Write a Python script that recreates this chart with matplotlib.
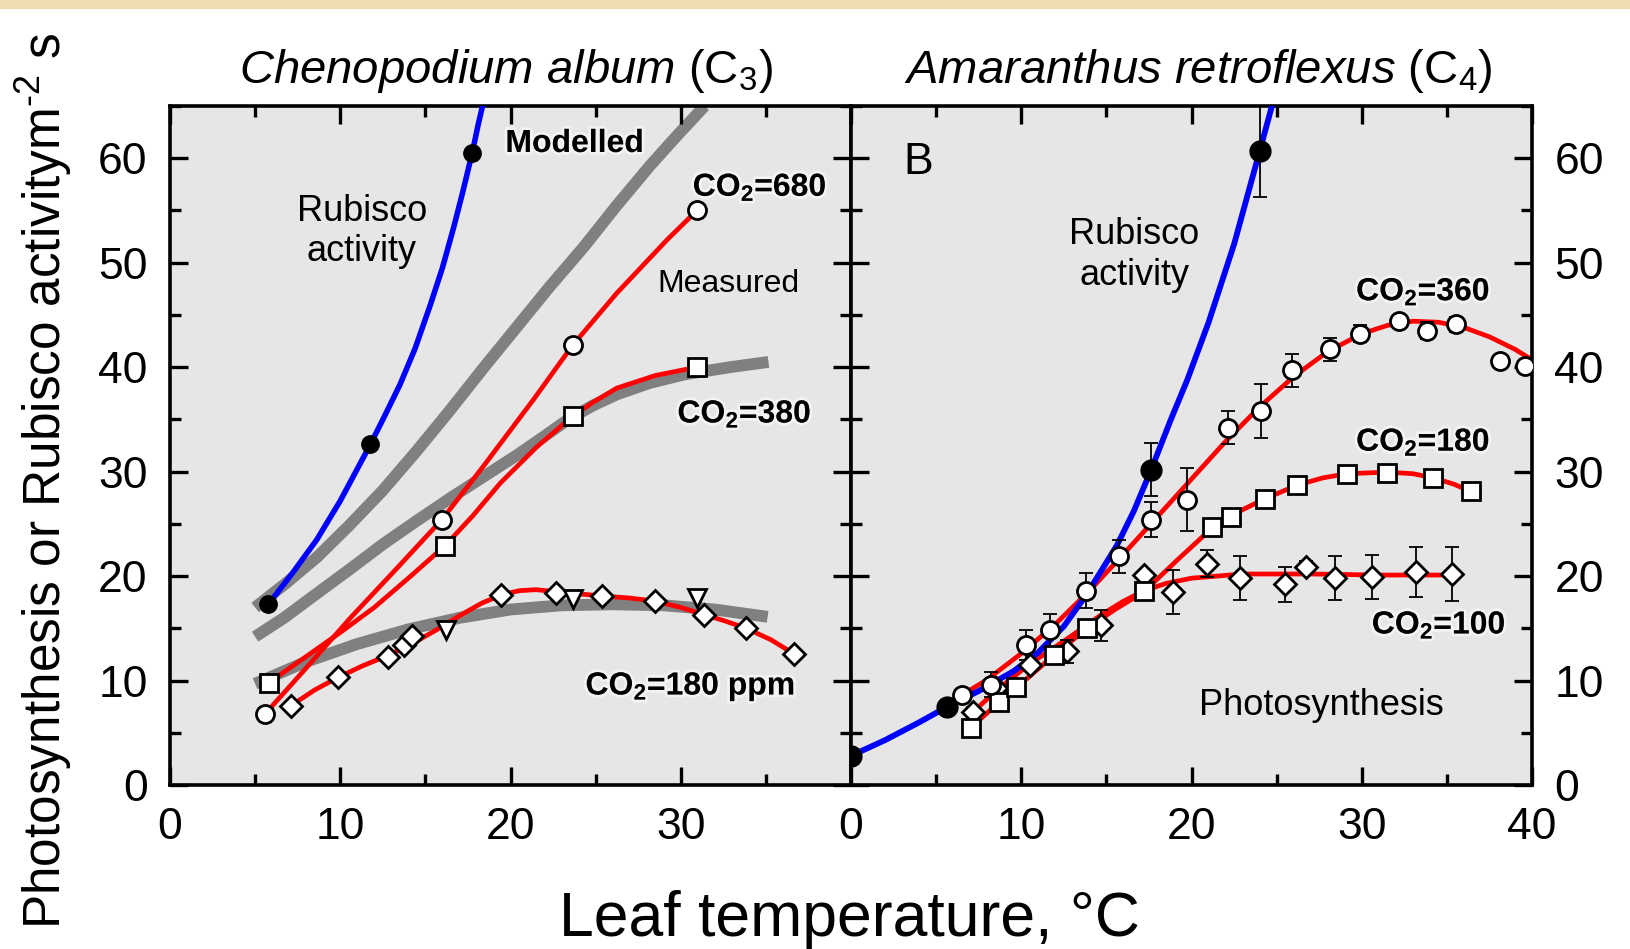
import matplotlib
matplotlib.use("Agg")
import matplotlib.pyplot as plt
import matplotlib.patheffects as pe
from matplotlib.ticker import MultipleLocator
from matplotlib.patches import Rectangle
import numpy as np

plt.rcParams['font.family'] = ['Liberation Sans', 'DejaVu Sans']
plt.rcParams['mathtext.fontset'] = 'custom'
plt.rcParams['mathtext.rm'] = 'Liberation Sans'
plt.rcParams['mathtext.it'] = 'Liberation Sans:italic'
plt.rcParams['mathtext.bf'] = 'Liberation Sans:bold'

# ---------------- C3: Chenopodium album ----------------
# modelled Rubisco activity (blue) - dots and curve
rub3_x = [5.78, 11.77, 17.75]
rub3_y = [17.3, 32.6, 60.5]
rub3_cx = [5.78, 7.2, 8.63, 10.0, 11.77, 12.6, 13.5, 14.4, 15.3, 16.0, 16.65, 17.2, 17.75, 18.1, 18.5]
rub3_cy = [17.3, 20.3, 23.5, 27.2, 32.6, 35.3, 38.3, 41.8, 46.0, 49.5, 53.3, 56.8, 60.5, 63.2, 66.0]

# modelled photosynthesis (grey)
mod680_x = [5.0, 6.8, 8.63, 10.5, 12.5, 14.5, 16.46, 18.4, 20.4, 22.3, 24.3, 26.2, 28.2, 29.8, 31.4]
mod680_y = [17.0, 19.3, 21.8, 24.8, 28.2, 32.0, 35.9, 39.9, 43.9, 47.7, 51.5, 55.4, 59.3, 62.2, 65.0]
mod380_x = [5.0, 6.7, 8.6, 10.6, 12.55, 14.5, 16.5, 18.4, 20.4, 22.0, 23.3, 24.8, 26.25, 28.2, 30.2, 32.9, 35.15]
mod380_y = [14.2, 16.0, 18.3, 20.7, 23.1, 25.3, 27.5, 29.5, 31.6, 33.4, 34.9, 36.3, 37.4, 38.5, 39.3, 40.0, 40.5]
mod180_x = [5.0, 8.0, 11.0, 14.0, 17.0, 20.0, 23.0, 26.0, 29.0, 32.0, 35.1]
mod180_y = [9.7, 11.8, 13.5, 14.9, 16.0, 16.8, 17.2, 17.3, 17.2, 16.8, 16.1]

# measured photosynthesis (red curves + symbols)
m680_x = [5.58, 15.97, 23.65, 30.95]
m680_y = [6.8, 25.4, 42.1, 55.0]
m680_cx = [5.58, 8.0, 10.6, 13.3, 15.97, 18.4, 21.35, 23.65, 25.0, 26.25, 29.2, 30.95]
m680_cy = [6.8, 11.2, 16.0, 20.7, 25.4, 30.5, 36.9, 42.1, 44.7, 47.1, 52.2, 55.0]

m380_x = [5.8, 16.15, 23.65, 30.95]
m380_y = [9.8, 22.9, 35.3, 40.0]
m380_cx = [5.8, 8.0, 10.0, 12.0, 14.0, 16.15, 17.8, 19.4, 21.5, 23.65, 24.8, 26.25, 28.5, 30.95]
m380_cy = [9.8, 12.3, 14.6, 17.0, 19.8, 22.9, 25.8, 28.9, 32.3, 35.3, 36.6, 38.0, 39.2, 40.0]

m180d_x = [7.11, 9.87, 12.81, 13.76, 14.22, 19.46, 22.66, 25.4, 28.5, 31.35, 33.84, 36.65]
m180d_y = [7.57, 10.3, 12.26, 13.4, 14.26, 18.17, 18.4, 18.1, 17.6, 16.25, 15.0, 12.55]
m180t_x = [16.19, 23.65, 30.95]
m180t_y = [14.8, 17.8, 17.9]
m180_cx = [7.11, 8.5, 9.87, 11.3, 12.8, 14.2, 15.6, 17.0, 18.3, 19.46, 20.5, 21.5, 22.7, 24.0,
           25.4, 27.0, 28.5, 30.0, 31.4, 32.6, 33.84, 35.3, 36.65]
m180_cy = [7.6, 9.1, 10.3, 11.4, 12.4, 13.5, 14.8, 16.2, 17.4, 18.2, 18.6, 18.7, 18.5, 18.3,
           18.1, 17.9, 17.6, 17.0, 16.3, 15.7, 15.0, 13.9, 12.55]

# ---------------- C4: Amaranthus retroflexus ----------------
rub4_x = [0.0, 5.66, 17.63, 24.0]
rub4_y = [2.8, 7.5, 30.2, 60.7]
rub4_err = [0, 0, 2.5, 4.4]
rub4_cx = [0.0, 2.0, 4.0, 5.66, 7.5, 9.55, 11.0, 12.5, 13.86, 15.6, 16.6, 17.63, 18.76, 19.75, 21.0, 22.5, 24.0, 24.8]
rub4_cy = [2.8, 4.3, 6.0, 7.5, 9.0, 10.9, 12.7, 15.2, 18.3, 22.9, 26.2, 30.2, 34.9, 38.8, 44.3, 51.8, 60.7, 65.5]

p360_x = [6.5, 8.2, 10.25, 11.7, 13.82, 15.73, 17.63, 19.75, 22.15, 24.08, 25.9, 28.1, 29.87, 32.2, 33.8, 35.5, 38.1, 39.6]
p360_y = [8.6, 9.6, 13.4, 14.8, 18.6, 21.9, 25.4, 27.3, 34.2, 35.8, 39.7, 41.7, 43.2, 44.4, 43.5, 44.1, 40.6, 40.1]
p360_err = [0, 1.2, 1.4, 1.6, 1.7, 1.6, 1.7, 3.0, 1.6, 2.6, 1.6, 1.1, 0.8, 0.5, 0.8, 0.7, 0, 0]
p360_cx = [6.5, 8.0, 10.0, 12.0, 14.0, 16.0, 18.0, 20.0, 22.0, 24.0, 26.0, 28.0, 30.0, 31.5, 33.0,
           34.5, 36.0, 37.5, 39.0, 40.0]
p360_cy = [8.6, 10.1, 12.6, 15.4, 18.6, 22.1, 25.7, 29.3, 32.9, 36.2, 39.1, 41.5, 43.2, 44.0, 44.4,
           44.3, 43.8, 42.9, 41.7, 40.7]

p180_x = [7.03, 8.68, 9.7, 11.9, 13.86, 17.2, 21.2, 22.3, 24.3, 26.2, 29.1, 31.5, 34.2, 36.4]
p180_y = [5.5, 7.9, 9.35, 12.4, 15.0, 18.6, 24.7, 25.7, 27.35, 28.76, 29.8, 29.9, 29.4, 28.1]
p180_cx = [7.03, 8.68, 9.7, 11.9, 13.86, 15.5, 17.2, 19.2, 21.2, 22.3, 24.3, 26.2, 27.7, 29.1,
           31.5, 33.0, 34.2, 35.4, 36.4]
p180_cy = [5.5, 7.9, 9.3, 12.4, 15.0, 16.8, 18.5, 21.6, 24.6, 25.8, 27.4, 28.7, 29.4, 29.8,
           29.95, 29.8, 29.4, 28.8, 28.1]

p100_x = [7.18, 8.5, 10.5, 12.7, 14.7, 17.2, 18.9, 20.9, 22.84, 25.5, 26.7, 28.4, 30.6, 33.2, 35.3]
p100_y = [7.0, 9.3, 11.5, 12.8, 15.3, 20.1, 18.5, 21.2, 19.8, 19.2, 20.9, 19.8, 19.9, 20.4, 20.2]
p100_err = [0.5, 0, 0, 1.1, 1.5, 0, 2.1, 1.3, 2.1, 1.7, 0.5, 2.1, 2.1, 2.4, 2.6]
p100_cx = [7.18, 8.5, 10.5, 12.7, 14.7, 16.0, 17.2, 18.5, 20.0, 21.5, 23.0, 25.0, 27.0, 29.0, 31.0, 33.0, 35.3]
p100_cy = [7.0, 9.0, 11.6, 14.0, 16.3, 17.6, 18.6, 19.3, 19.8, 20.0, 20.2, 20.2, 20.2, 20.15, 20.1, 20.1, 20.1]

RED = '#ff0000'
BLUE = '#0000ff'
GREY = '#808080'
BG = '#e6e6e6'

fig = plt.figure(figsize=(16.31, 9.49), dpi=100)
fig.patches.append(Rectangle((0, 0.992), 1, 0.008, transform=fig.transFigure,
                             color='#efdcb0', zorder=0))

ax1 = fig.add_axes([0.1042, 0.1728, 0.4176, 0.7155])
ax2 = fig.add_axes([0.5218, 0.1728, 0.4176, 0.7155])

for ax in (ax1, ax2):
    ax.set_facecolor(BG)
    ax.set_xlim(0, 40)
    ax.set_ylim(0, 65)
    ax.xaxis.set_major_locator(MultipleLocator(10))
    ax.xaxis.set_minor_locator(MultipleLocator(5))
    ax.yaxis.set_major_locator(MultipleLocator(10))
    ax.yaxis.set_minor_locator(MultipleLocator(5))
    ax.tick_params(which='both', direction='in', top=True, right=True,
                   bottom=True, left=True, width=2.4, labelsize=32)
    ax.tick_params(which='major', length=13, pad=16)
    ax.tick_params(which='minor', length=8)
    for s in ax.spines.values():
        s.set_linewidth(2.6)

ax1.set_xticks([0, 10, 20, 30, 40])
ax1.set_xticklabels(['0', '10', '20', '30', ''])
ax2.tick_params(labelleft=False, labelright=True)

mk = dict(mfc='white', mec='black', mew=2.0, ls='none', zorder=5)
eb = dict(fmt='none', ecolor='black', elinewidth=1.3, capsize=5, capthick=1.3, zorder=4)
halo = [pe.withStroke(linewidth=4, foreground=(1, 1, 1, 0.55))]

# ---- left panel
ax1.plot(mod680_x, mod680_y, color=GREY, lw=8.5, solid_capstyle='butt', zorder=1)
ax1.plot(mod380_x, mod380_y, color=GREY, lw=8.5, solid_capstyle='butt', zorder=1)
ax1.plot(mod180_x, mod180_y, color=GREY, lw=8.5, solid_capstyle='butt', zorder=1)
ax1.plot(rub3_cx, rub3_cy, color=BLUE, lw=4, zorder=3)
ax1.plot(m680_cx, m680_cy, color=RED, lw=3.4, zorder=2)
ax1.plot(m380_cx, m380_cy, color=RED, lw=3.4, zorder=2)
ax1.plot(m180_cx, m180_cy, color=RED, lw=3.4, zorder=2)

ax1.plot(rub3_x, rub3_y, 'o', color='black', ms=12.5, zorder=5)
ax1.plot(m680_x, m680_y, 'o', ms=13, **mk)
ax1.plot(m380_x, m380_y, 's', ms=12.5, **mk)
ax1.plot(m180d_x, m180d_y, 'D', ms=11.5, **mk)
ax1.plot(m180t_x, m180t_y, 'v', ms=13.5, **mk)

ax1.text(11.27, 53.0, 'Rubisco\nactivity', fontsize=26, ha='center', va='center', linespacing=1.2)
ax1.text(19.7, 60.6, 'Modelled', fontsize=23, fontweight='bold', va='baseline', path_effects=halo)
ax1.text(30.7, 56.4, r'CO$_\mathbf{2}$=680', fontsize=23, fontweight='bold', va='baseline', path_effects=halo)
ax1.text(28.6, 47.2, 'Measured', fontsize=23, va='baseline')
ax1.text(29.8, 34.7, r'CO$_\mathbf{2}$=380', fontsize=23, fontweight='bold', va='baseline', path_effects=halo)
ax1.text(24.4, 8.66, r'CO$_\mathbf{2}$=180 ppm', fontsize=23, fontweight='bold', va='baseline', path_effects=halo)

# ---- right panel
ax2.plot(p360_cx, p360_cy, color=RED, lw=3.4, zorder=2)
ax2.plot(p180_cx, p180_cy, color=RED, lw=3.4, zorder=2)
ax2.plot(p100_cx, p100_cy, color=RED, lw=3.4, zorder=2)
ax2.plot(rub4_cx, rub4_cy, color=BLUE, lw=4.2, zorder=3)


def bars(ax, x, y, err):
    x, y, err = np.asarray(x), np.asarray(y), np.asarray(err)
    keep = err > 0
    ax.errorbar(x[keep], y[keep], yerr=err[keep], **eb)


bars(ax2, p360_x, p360_y, p360_err)
bars(ax2, p100_x, p100_y, p100_err)
bars(ax2, rub4_x, rub4_y, rub4_err)

ax2.plot(p100_x, p100_y, 'D', ms=11.5, **mk)
ax2.plot(p180_x, p180_y, 's', ms=12.5, **mk)
ax2.plot(p360_x, p360_y, 'o', ms=13, **mk)
ax2.plot(rub4_x, rub4_y, 'o', color='black', ms=15, zorder=6)

ax2.text(3.06, 58.5, 'B', fontsize=32, va='baseline')
ax2.text(16.64, 50.75, 'Rubisco\nactivity', fontsize=26, ha='center', va='center', linespacing=1.2)
ax2.text(29.66, 46.4, r'CO$_\mathbf{2}$=360', fontsize=23, fontweight='bold', va='baseline', path_effects=halo)
ax2.text(29.66, 32.0, r'CO$_\mathbf{2}$=180', fontsize=23, fontweight='bold', va='baseline', path_effects=halo)
ax2.text(30.58, 14.5, r'CO$_\mathbf{2}$=100', fontsize=23, fontweight='bold', va='baseline', path_effects=halo)
ax2.text(27.6, 6.67, 'Photosynthesis', fontsize=26, ha='center', va='baseline')

# titles and axis labels
fig.text(0.3102, 0.9125, r'$\mathit{Chenopodium\ album}$ (C$_3$)', fontsize=34,
         ha='center', va='baseline')
fig.text(0.7345, 0.9125, r'$\mathit{Amaranthus\ retroflexus}$ (C$_4$)', fontsize=34,
         ha='center', va='baseline')
fig.text(0.5206, 0.0137, 'Leaf temperature, °C', fontsize=45, ha='center', va='baseline')
fig.text(0.027, 0.0215, r'Photosynthesis or Rubisco activitym$^{\text{-}2}$ s', fontsize=37,
         rotation=90, ha='center', va='bottom')

fig.savefig('out.png', dpi=100)
